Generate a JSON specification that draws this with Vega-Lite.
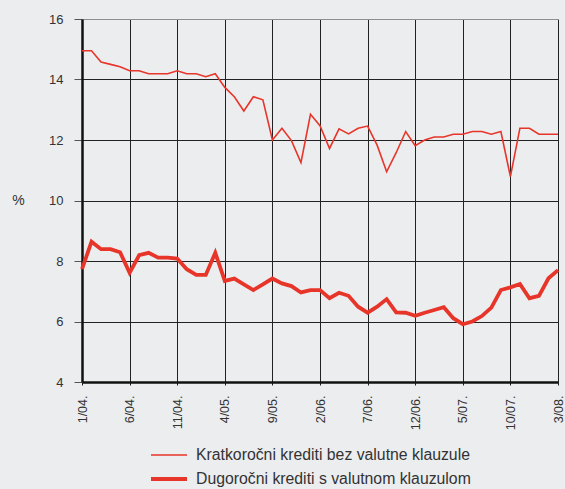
{
  "$schema": "https://vega.github.io/schema/vega-lite/v6.json",
  "width": 476,
  "height": 363,
  "autosize": {"type": "none"},
  "padding": {"left": 82, "top": 19, "right": 7, "bottom": 107},
  "background": "#ecedef",
  "config": {
    "view": {"stroke": null},
    "font": "Liberation Sans",
    "axis": {"labelFont": "Liberation Sans", "titleFont": "Liberation Sans", "labelColor": "#333", "titleColor": "#333"}
  },
  "data": {"values": [
    {"i":0,"k":14.95,"d":7.73},{"i":1,"k":14.95,"d":8.64},{"i":2,"k":14.58,"d":8.39},{"i":3,"k":14.5,"d":8.39},{"i":4,"k":14.42,"d":8.29},
    {"i":5,"k":14.29,"d":7.61},{"i":6,"k":14.29,"d":8.19},{"i":7,"k":14.19,"d":8.27},{"i":8,"k":14.19,"d":8.11},{"i":9,"k":14.19,"d":8.11},
    {"i":10,"k":14.29,"d":8.08},{"i":11,"k":14.19,"d":7.73},{"i":12,"k":14.19,"d":7.54},{"i":13,"k":14.09,"d":7.54},{"i":14,"k":14.19,"d":8.27},
    {"i":15,"k":13.74,"d":7.34},{"i":16,"k":13.43,"d":7.42},{"i":17,"k":12.96,"d":7.23},{"i":18,"k":13.43,"d":7.04},{"i":19,"k":13.33,"d":7.23},
    {"i":20,"k":12.0,"d":7.42},{"i":21,"k":12.39,"d":7.26},{"i":22,"k":11.98,"d":7.17},{"i":23,"k":11.25,"d":6.96},{"i":24,"k":12.85,"d":7.04},
    {"i":25,"k":12.47,"d":7.04},{"i":26,"k":11.72,"d":6.77},{"i":27,"k":12.37,"d":6.95},{"i":28,"k":12.2,"d":6.85},{"i":29,"k":12.39,"d":6.49},
    {"i":30,"k":12.46,"d":6.29},{"i":31,"k":11.83,"d":6.49},{"i":32,"k":10.95,"d":6.74},{"i":33,"k":11.58,"d":6.3},{"i":34,"k":12.28,"d":6.29},
    {"i":35,"k":11.81,"d":6.19},{"i":36,"k":12.0,"d":6.29},{"i":37,"k":12.1,"d":6.38},{"i":38,"k":12.1,"d":6.47},{"i":39,"k":12.19,"d":6.11},
    {"i":40,"k":12.19,"d":5.91},{"i":41,"k":12.28,"d":6.0},{"i":42,"k":12.28,"d":6.18},{"i":43,"k":12.19,"d":6.46},{"i":44,"k":12.28,"d":7.04},
    {"i":45,"k":10.79,"d":7.13},{"i":46,"k":12.39,"d":7.24},{"i":47,"k":12.39,"d":6.77},{"i":48,"k":12.19,"d":6.85},{"i":49,"k":12.19,"d":7.43},
    {"i":50,"k":12.19,"d":7.7}
  ]},
  "transform": [
    {"fold": ["k", "d"], "as": ["key", "value"]},
    {"calculate": "datum.key == 'k' ? 'Kratkoročni krediti bez valutne klauzule' : 'Dugoročni krediti s valutnom klauzulom'", "as": "series"}
  ],
  "mark": {"type": "line", "strokeJoin": "miter", "interpolate": "linear"},
  "encoding": {
    "x": {
      "field": "i", "type": "quantitative",
      "scale": {"domain": [0, 50], "nice": false, "zero": false},
      "axis": {
        "title": null,
        "values": [0,5,10,15,20,25,30,35,40,45,50],
        "labelExpr": "['1/04.','6/04.','11/04.','4/05.','9/05.','2/06.','7/06.','12/06.','5/07.','10/07.','3/08.'][round(datum.value/5)]",
        "labelAngle": -90, "labelAlign": "right", "labelBaseline": "middle",
        "labelFontSize": 12.5, "labelPadding": 10, "tickSize": 3, "tickColor": "#222",
        "domainColor": "#111", "domainWidth": 2.5,
        "grid": true, "gridColor": "#222", "gridWidth": 1, "labelOverlap": false, "labelBound": false, "labelFlush": false
      }
    },
    "y": {
      "field": "value", "type": "quantitative",
      "scale": {"domain": [4, 16], "nice": false, "zero": false},
      "axis": {
        "title": "%", "titleAngle": 0, "titleX": -64, "titleY": 181, "titleAlign": "center", "titleBaseline": "middle",
        "titleFontSize": 14, "titleFontWeight": "normal",
        "values": [4,6,8,10,12,14,16],
        "labelFontSize": 13, "labelPadding": 11, "tickSize": 8, "tickColor": "#555",
        "domainColor": "#111", "domainWidth": 2.5,
        "grid": true,
        "gridColor": {"condition": {"test": "datum.value == 16", "value": "#8f8f8f"}, "value": "#222"},
        "gridWidth": 1
      }
    },
    "color": {
      "field": "series", "type": "nominal",
      "scale": {"domain": ["Kratkoročni krediti bez valutne klauzule", "Dugoročni krediti s valutnom klauzulom"], "range": ["#e8352a", "#e8352a"]},
      "legend": {
        "title": null, "orient": "none", "legendX": 76, "legendY": 426,
        "symbolType": "M-2,0H2", "symbolSize": 324, "labelFontSize": 15.8, "labelColor": "#333",
        "labelOffset": 16, "rowPadding": 5, "labelLimit": 400, "labelFont": "Liberation Sans"
      }
    },
    "strokeWidth": {
      "field": "series", "type": "nominal",
      "scale": {"domain": ["Kratkoročni krediti bez valutne klauzule", "Dugoročni krediti s valutnom klauzulom"], "range": [1.6, 3.8]}
    }
  }
}
